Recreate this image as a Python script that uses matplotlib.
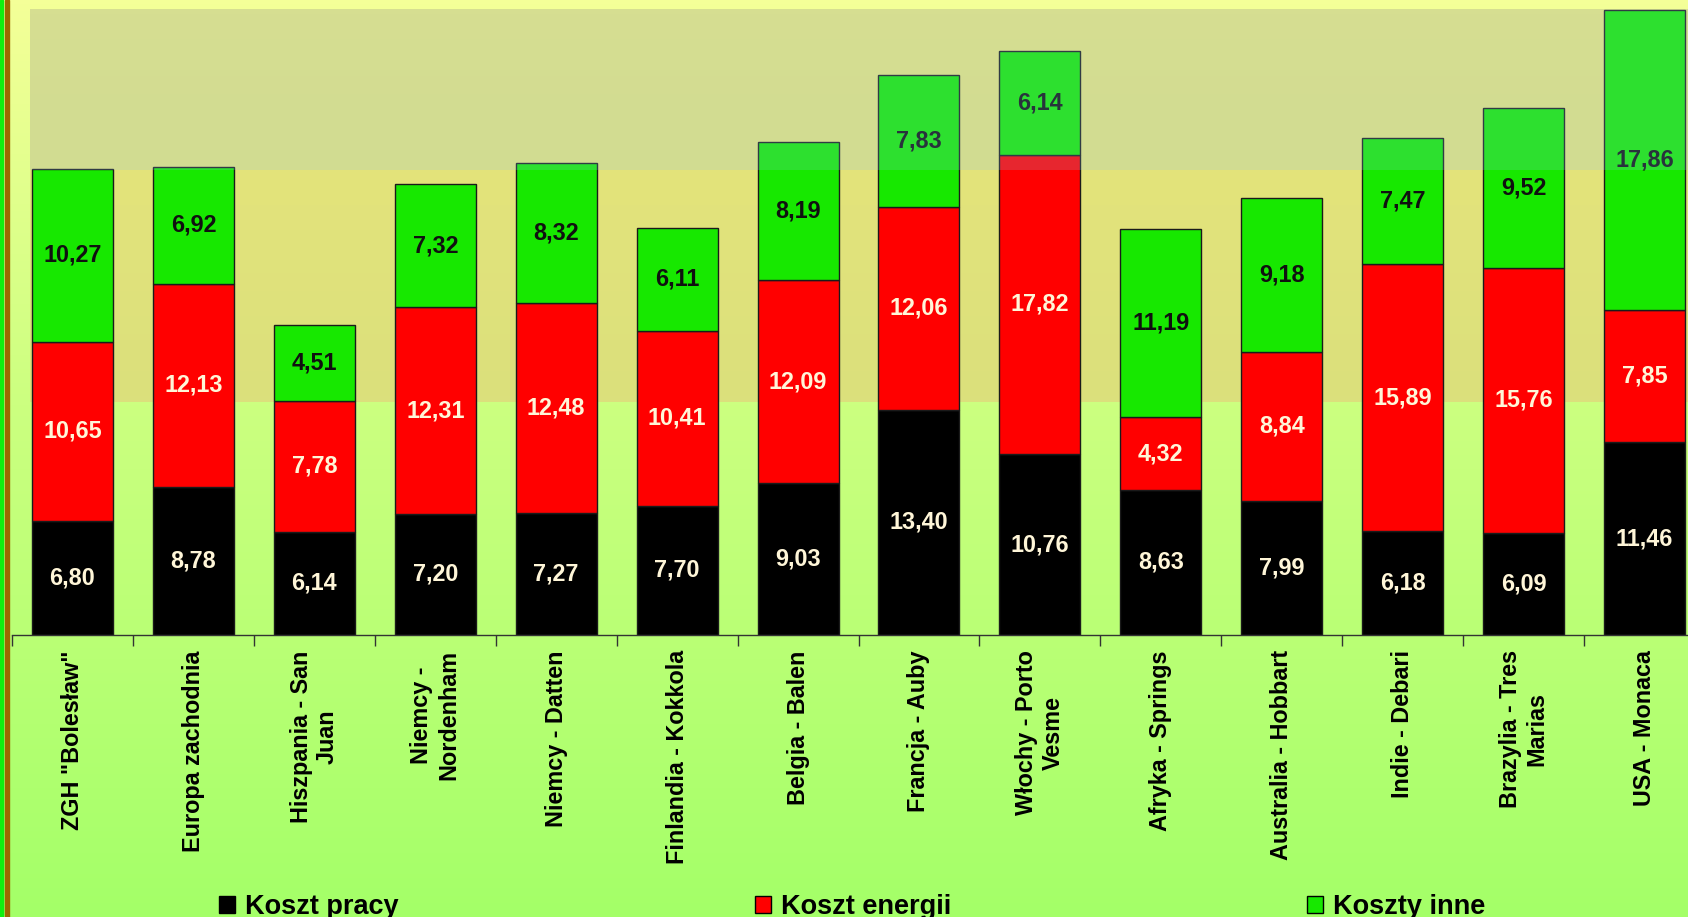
import matplotlib
matplotlib.use("Agg")
import matplotlib.pyplot as plt
import numpy as np
from matplotlib.patches import Patch, Rectangle
from matplotlib.colors import LinearSegmentedColormap

plt.rcParams['font.family'] = ['Liberation Sans', 'DejaVu Sans']
plt.rcParams['font.weight'] = 'bold'

#======== data ========
zaklady = ['ZGH "Bolesław"', 'Europa zachodnia', 'Hiszpania - San\nJuan',
           'Niemcy -\nNordenham', 'Niemcy - Datten', 'Finlandia - Kokkola',
           'Belgia - Balen', 'Francja - Auby', 'Włochy - Porto\nVesme',
           'Afryka - Springs', 'Australia - Hobbart', 'Indie - Debari',
           'Brazylia - Tres\nMarias', 'USA - Monaca']
koszt_pracy = [6.80, 8.78, 6.14, 7.20, 7.27, 7.70, 9.03, 13.40, 10.76, 8.63, 7.99, 6.18, 6.09, 11.46]
koszt_energii = [10.65, 12.13, 7.78, 12.31, 12.48, 10.41, 12.09, 12.06, 17.82, 4.32, 8.84, 15.89, 15.76, 7.85]
koszty_inne = [10.27, 6.92, 4.51, 7.32, 8.32, 6.11, 8.19, 7.83, 6.14, 11.19, 9.18, 7.47, 9.52, 17.86]
serie = ['Koszt pracy', 'Koszt energii', 'Koszty inne']

kol_praca, kol_energia, kol_inne = '#000000', '#ff0000', '#17e800'

W, H = 1688, 917
fig = plt.figure(figsize=(W / 100, H / 100), dpi=100)

#=== background gradient (pixel coords) ===
bg = fig.add_axes([0, 0, 1, 1], zorder=-10)
bg_cmap = LinearSegmentedColormap.from_list(
    'bg', [(0.0, '#f4ff98'), (0.44, '#ccff80'), (1.0, '#a4ff68')])
bg.imshow(np.linspace(0, 1, 256)[:, None], cmap=bg_cmap, aspect='auto',
          extent=[0, W, H, 0])
bg.add_patch(Rectangle((0, 0), 2.5, H, color='#10f010'))
bg.add_patch(Rectangle((5, 0), 3.5, H, color='#9c6a00'))
bg.set_xlim(0, W)
bg.set_ylim(H, 0)
bg.axis('off')

#=== main axes ===
px_left, px_right, px_base, px_top = 12, 1705, 635, 9
ax = fig.add_axes([px_left / W, (H - px_base) / H,
                   (px_right - px_left) / W, (px_base - px_top) / H])
ax.patch.set_alpha(0)
ymax = 37.24
x = np.arange(len(zaklady))
x0_band = -0.5 + (30 - px_left) / ((px_right - px_left) / len(zaklady))

# yellow band behind the bars
band_cmap = LinearSegmentedColormap.from_list('band', ['#dbe07c', '#e9e67a'])
ax.imshow(np.linspace(0, 1, 64)[:, None], cmap=band_cmap, aspect='auto',
          origin='lower', extent=[x0_band, 13.5, 13.86, ymax], zorder=0)
# translucent band over the tops
ax.axhspan(27.66, ymax, xmin=(x0_band + 0.5) / 14, xmax=1,
           color=(138 / 255, 192 / 255, 240 / 255), alpha=0.2, lw=0, zorder=6)

szer = 0.67
b1 = ax.bar(x, koszt_pracy, szer, color=kol_praca, edgecolor='#1a1a1a', lw=1, zorder=2)
dol2 = np.array(koszt_pracy)
b2 = ax.bar(x, koszt_energii, szer, bottom=dol2, color=kol_energia,
            edgecolor='#1a1a1a', lw=1, zorder=2)
dol3 = dol2 + np.array(koszt_energii)
b3 = ax.bar(x, koszty_inne, szer, bottom=dol3, color=kol_inne,
            edgecolor='#1a1a1a', lw=1, zorder=2)

def fmt(v):
    return f"{v:.2f}".replace('.', ',')

for i in range(len(x)):
    ax.text(x[i], koszt_pracy[i] / 2, fmt(koszt_pracy[i]), ha='center', va='center',
            color='#fff6d8', fontsize=16.8, fontweight='bold', zorder=4)
    ax.text(x[i], dol2[i] + koszt_energii[i] / 2, fmt(koszt_energii[i]), ha='center',
            va='center', color='#fff6d8', fontsize=16.8, fontweight='bold', zorder=4)
    ax.text(x[i], dol3[i] + koszty_inne[i] / 2, fmt(koszty_inne[i]), ha='center',
            va='center', color='#101010', fontsize=16.8, fontweight='bold', zorder=4)

ax.set_xlim(-0.5, 13.5)
ax.set_ylim(0, ymax)

# tick marks between bars, labels at bar centres
ax.set_xticks(np.arange(-0.5, 14, 1.0))
ax.set_xticklabels([])
ax.tick_params(axis='x', which='major', length=8, width=1, color='#333333', direction='out')
ax.set_xticks(x, minor=True)
ax.set_xticklabels(zaklady, minor=True, rotation=90, fontsize=16.8, fontweight='bold',
                   multialignment='center')
ax.tick_params(axis='x', which='minor', length=0, pad=11)
ax.set_yticks([])
for s in ['top', 'right', 'left']:
    ax.spines[s].set_visible(False)
ax.spines['bottom'].set_color('#333333')
ax.spines['bottom'].set_linewidth(1)

handles = [Patch(facecolor=c, edgecolor='black', lw=1)
           for c in [kol_praca, kol_energia, kol_inne]]
fig.legend(handles, serie, ncol=3, loc='center', bbox_to_anchor=(0.505, 0.011),
           frameon=False, prop={'size': 19.5, 'weight': 'bold'},
           handlelength=0.59, handleheight=0.59, handletextpad=0.37,
           columnspacing=13.15, borderpad=0, borderaxespad=0)

fig.savefig('out.png', dpi=100)
